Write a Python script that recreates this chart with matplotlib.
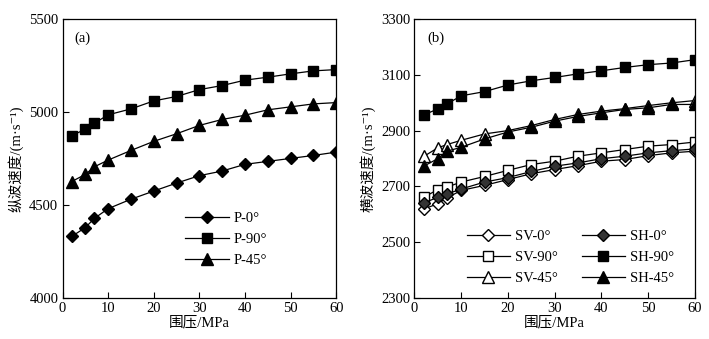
import matplotlib
matplotlib.use("Agg")
import matplotlib.pyplot as plt

plt.rcParams['font.family'] = ['Liberation Serif', 'Noto Sans CJK SC', 'DejaVu Serif']
plt.rcParams['font.size'] = 10
plt.rcParams['axes.unicode_minus'] = False

# Confining pressure (MPa)
pressure = [2, 5, 7, 10, 15, 20, 25, 30, 35, 40, 45, 50, 55, 60]

# P-wave velocities (m/s)
p_0 = [4329, 4377, 4427, 4479, 4530, 4574, 4617, 4657, 4682, 4718, 4734, 4750, 4766, 4784]
p_90 = [4872, 4908, 4940, 4985, 5017, 5060, 5084, 5121, 5143, 5172, 5188, 5206, 5222, 5229]
p_45 = [4625, 4664, 4705, 4741, 4793, 4842, 4883, 4928, 4960, 4983, 5012, 5028, 5044, 5051]

# S-wave velocities (m/s)
sv_0 = [2618, 2637, 2658, 2685, 2703, 2724, 2745, 2760, 2774, 2790, 2796, 2810, 2820, 2826]
sh_0 = [2640, 2660, 2672, 2690, 2715, 2731, 2753, 2772, 2784, 2799, 2808, 2820, 2828, 2834]
sv_90 = [2660, 2688, 2697, 2715, 2735, 2757, 2778, 2790, 2808, 2820, 2832, 2844, 2850, 2859]
sh_90 = [2956, 2978, 2996, 3025, 3040, 3064, 3079, 3091, 3104, 3115, 3127, 3137, 3143, 3155]
sv_45 = [2807, 2838, 2850, 2865, 2888, 2900, 2918, 2940, 2958, 2970, 2979, 2990, 3000, 3008]
sh_45 = [2772, 2799, 2826, 2840, 2870, 2895, 2912, 2934, 2951, 2964, 2976, 2982, 2994, 2994]

p_ticks = [4000, 4500, 5000, 5500]
s_ticks = [2300, 2500, 2700, 2900, 3100, 3300]
x_ticks = [0, 10, 20, 30, 40, 50, 60]

fig = plt.figure(figsize=(7.09, 3.39), dpi=100)
ax1 = fig.add_axes([0.0882, 0.1224, 0.386, 0.8206])
ax2 = fig.add_axes([0.5844, 0.1224, 0.3959, 0.8206])

line_kw = dict(color='black', lw=0.9, mec='black')


def style(ax, yticks, ylabel, tag):
    ax.set_xlim(0, 60)
    ax.set_xticks(x_ticks)
    ax.set_ylim(yticks[0], yticks[-1])
    ax.set_yticks(yticks)
    ax.tick_params(direction='in', length=4, width=0.8, top=False, right=False,
                   labelsize=10.5, pad=3)
    for s in ax.spines.values():
        s.set_linewidth(0.9)
    ax.set_xlabel('围压/MPa', fontsize=10.5, labelpad=1)
    ax.set_ylabel(ylabel, fontsize=10.5, labelpad=4)
    ax.text(0.045, 0.955, tag, transform=ax.transAxes, fontsize=10.5,
            ha='left', va='top')


ax1.plot(pressure, p_0, marker='D', ms=6.5, mfc='black', label='P-0°', **line_kw)
ax1.plot(pressure, p_90, marker='s', ms=7, mfc='black', label='P-90°', **line_kw)
ax1.plot(pressure, p_45, marker='^', ms=8, mfc='black', label='P-45°', **line_kw)
style(ax1, p_ticks, '纵波速度/(m·s⁻¹)', '(a)')
ax1.legend(loc='upper left', bbox_to_anchor=(0.42, 0.333), frameon=False,
           handlelength=3.0, handletextpad=0.35, labelspacing=0.52,
           borderpad=0, fontsize=10.5)

ax2.plot(pressure, sv_0, marker='D', ms=6.5, mfc='white', label='SV-0°', **line_kw)
ax2.plot(pressure, sv_90, marker='s', ms=7, mfc='white', label='SV-90°', **line_kw)
ax2.plot(pressure, sv_45, marker='^', ms=8, mfc='white', label='SV-45°', **line_kw)
ax2.plot(pressure, sh_0, marker='D', ms=6.5, mfc='#333333', label='SH-0°', **line_kw)
ax2.plot(pressure, sh_90, marker='s', ms=7, mfc='black', label='SH-90°', **line_kw)
ax2.plot(pressure, sh_45, marker='^', ms=8, mfc='black', label='SH-45°', **line_kw)
style(ax2, s_ticks, '横波速度/(m·s⁻¹)', '(b)')
ax2.legend(loc='upper left', bbox_to_anchor=(0.16, 0.268), frameon=False, ncol=2,
           handlelength=3.0, handletextpad=0.35, labelspacing=0.52,
           columnspacing=1.6, borderpad=0, fontsize=10.5)

fig.savefig('out.png', dpi=100)
